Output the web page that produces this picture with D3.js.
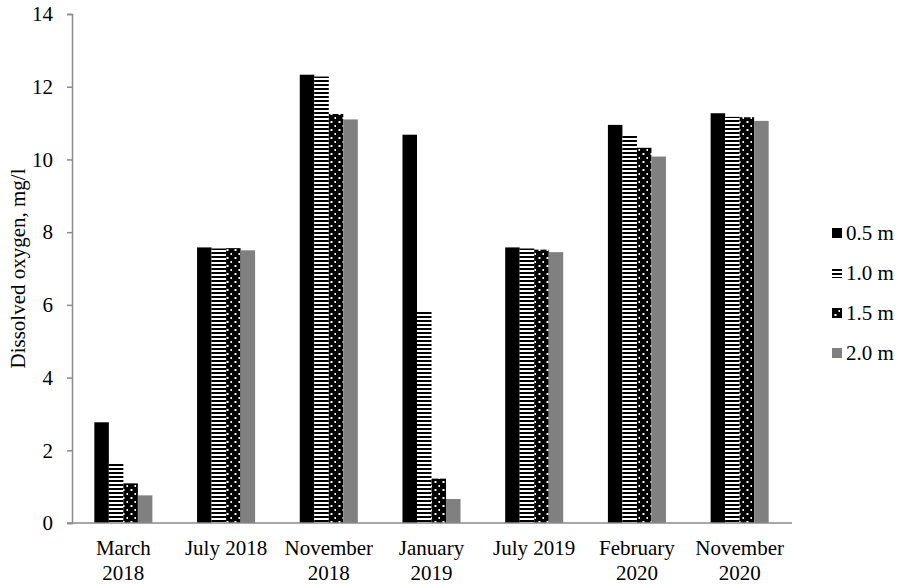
<!DOCTYPE html>
<html>
<head>
<meta charset="utf-8">
<script src="https://cdn.jsdelivr.net/npm/d3@7"></script>
<style>
  html, body { margin: 0; padding: 0; background: #fff; }
  svg { display: block; }
  text { font-family: "Liberation Serif", "Times New Roman", serif; fill: #000; }
</style>
</head>
<body>
<svg id="chart" width="903" height="585"></svg>
<script>
// Sampling dates (multi-line labels split on "\n")
const categories = ["March\n2018", "July 2018", "November\n2018", "January\n2019",
                    "July 2019", "February\n2020", "November\n2020"];
// Depths of measurement
const depths = ["0.5 m", "1.0 m", "1.5 m", "2.0 m"];
// Dissolved oxygen, mg/l, at each depth
const depth05 = [2.77, 7.58, 12.33, 10.68, 7.58, 10.95, 11.27];
const depth10 = [1.65, 7.55, 12.28, 5.85, 7.55, 10.65, 11.17];
const depth15 = [1.09, 7.56, 11.25, 1.22, 7.52, 10.32, 11.16];
const depth20 = [0.76, 7.50, 11.10, 0.66, 7.45, 10.08, 11.06];
const yTicks = [0, 2, 4, 6, 8, 10, 12, 14];

const seriesValues = [depth05, depth10, depth15, depth20];

const svg = d3.select("#chart");
const axisColor = "#8a8a8a";
const fontSize = 21;
const fontFamily = '"Liberation Serif", "Times New Roman", serif';

// Fill patterns
const defs = svg.append("defs");
const stripes = defs.append("pattern")
  .attr("id", "stripes").attr("patternUnits", "userSpaceOnUse")
  .attr("width", 8).attr("height", 4);
stripes.append("rect").attr("width", 8).attr("height", 4).attr("fill", "#fff");
stripes.append("rect").attr("width", 8).attr("height", 2).attr("fill", "#000");

const dots = defs.append("pattern")
  .attr("id", "dots").attr("patternUnits", "userSpaceOnUse")
  .attr("width", 8).attr("height", 8);
dots.append("rect").attr("width", 8).attr("height", 8).attr("fill", "#000");
dots.append("rect").attr("x", 2.5).attr("y", 1).attr("width", 2).attr("height", 2).attr("fill", "#fff");
dots.append("rect").attr("x", 6.5).attr("y", 5).attr("width", 2).attr("height", 2).attr("fill", "#fff");

const fills = ["#000", "url(#stripes)", "url(#dots)", "#808080"];

// Plot area and scales
const plotLeft = 72, plotRight = 791, plotTop = 14, plotBottom = 523;
const x0 = d3.scaleBand().domain(categories).range([plotLeft, plotRight]).padding(0);
const groupW = x0.bandwidth() * 0.565;
const x1 = d3.scaleBand().domain(depths).range([0, groupW]).padding(0);
const y = d3.scaleLinear().domain([0, 14]).range([plotBottom, plotTop]);

// Bars
depths.forEach((dName, si) => {
  svg.append("g").selectAll("rect")
    .data(categories.map((c, i) => ({ c, v: seriesValues[si][i] })))
    .join("rect")
    .attr("x", d => x0(d.c) + (x0.bandwidth() - groupW) / 2 + x1(dName))
    .attr("y", d => y(d.v))
    .attr("width", x1.bandwidth())
    .attr("height", d => y(0) - y(d.v))
    .attr("fill", fills[si]);
});

// Y axis
const yAxis = svg.append("g")
  .attr("transform", `translate(${plotLeft},0)`)
  .call(d3.axisLeft(y).tickValues(yTicks).tickSize(5).tickPadding(14).tickSizeOuter(5));
yAxis.select(".domain").attr("stroke", axisColor).attr("stroke-width", 1.5);
yAxis.selectAll(".tick line").attr("stroke", axisColor).attr("stroke-width", 1.5);
yAxis.selectAll(".tick text")
  .style("font-family", fontFamily)
  .style("font-size", fontSize + "px").attr("fill", "#000");

// X axis
const xAxis = svg.append("g")
  .attr("transform", `translate(0,${plotBottom})`)
  .call(d3.axisBottom(x0).tickSize(0).tickSizeOuter(0));
xAxis.select(".domain").remove();
xAxis.selectAll(".tick text").each(function (d) {
  const t = d3.select(this);
  t.text(null).attr("y", 0).attr("dy", null)
    .style("font-family", fontFamily)
    .style("font-size", fontSize + "px").attr("fill", "#000");
  d.split("\n").forEach((line, li) => {
    t.append("tspan").attr("x", 0).attr("y", 32 + li * 25).text(line);
  });
});
svg.append("line")
  .attr("x1", plotLeft - 5).attr("x2", plotRight + 1)
  .attr("y1", plotBottom).attr("y2", plotBottom)
  .attr("stroke", axisColor).attr("stroke-width", 1.5);

// Y axis title
svg.append("text")
  .attr("transform", `translate(25,${(plotTop + plotBottom) / 2}) rotate(-90)`)
  .attr("text-anchor", "middle")
  .style("font-size", fontSize + "px")
  .text("Dissolved oxygen, mg/l");

// Legend
const legend = svg.append("g").attr("transform", "translate(832,233)");
depths.forEach((dName, i) => {
  const g = legend.append("g").attr("transform", `translate(0,${i * 40})`);
  g.append("rect").attr("x", 0).attr("y", -5).attr("width", 10).attr("height", 10)
    .attr("fill", fills[i]);
  g.append("text").attr("x", 14).attr("y", 7)
    .style("font-size", fontSize + "px").text(dName);
});
</script>
</body>
</html>
